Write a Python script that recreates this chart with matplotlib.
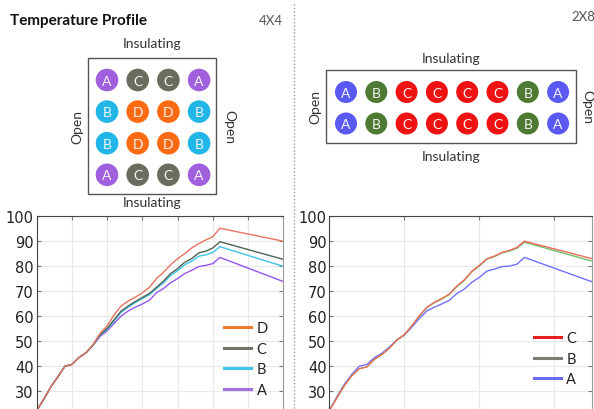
import matplotlib
matplotlib.use("Agg")
import matplotlib.pyplot as plt
from matplotlib.patches import Circle, Rectangle
from matplotlib.lines import Line2D

# ---- data ----
time = [0, 2, 4, 6, 8, 10, 12, 14, 16, 18, 20, 22, 24, 26, 28, 30, 32, 34,
        36, 38, 40, 42, 44, 46, 48, 50, 52, 70]

# 4x4 layout
grid_4x4 = [["A", "C", "C", "A"],
            ["B", "D", "D", "B"],
            ["B", "D", "D", "B"],
            ["A", "C", "C", "A"]]
t4_A = [22, 26.5, 31.5, 35.5, 39.8, 40.5, 43.3, 45.2, 48.2, 51.8, 54, 57, 60, 62, 63.5,
        64.8, 66.3, 69.3, 71, 73.3, 75, 77, 78.3, 79.8, 80.3, 81, 83.5, 73.8]
t4_B = [22, 26.5, 31.5, 35.5, 39.8, 40.5, 43.3, 45.2, 48.3, 52.3, 54.6, 58, 61.5, 63.5,
        65.4, 67, 68.5, 71, 73.3, 76.2, 78.2, 80.5, 82, 84, 84.5, 85.5, 87.8, 79.9]
t4_C = [22, 26.5, 31.5, 35.5, 39.8, 40.5, 43.3, 45.2, 48.3, 52.5, 55, 58.5, 62, 64,
        65.8, 67.4, 69, 71.5, 74, 77, 79, 81.5, 83, 85.3, 86, 87.3, 89.8, 82.7]
t4_D = [22, 26.5, 31.5, 35.5, 39.8, 40.5, 43.3, 45.2, 48.5, 53, 56, 60.5, 64, 66,
        67.5, 69.3, 71.5, 75, 77.5, 80.5, 83, 85, 87.3, 89, 90.5, 91.8, 95.2, 90]

# 2x8 layout
grid_2x8 = [["A", "B", "C", "C", "C", "C", "B", "A"],
            ["A", "B", "C", "C", "C", "C", "B", "A"]]
t8_A = [22, 27.5, 32.5, 36.5, 39.8, 40.5, 43.2, 45, 47.5, 50.3, 52.3, 55.5, 59, 62,
        63.5, 64.8, 66.3, 69, 70.8, 73.5, 75.5, 78, 78.8, 79.8, 80, 80.8, 83.5, 73.7]
t8_B = [22, 27, 32, 36, 38.8, 39.5, 42.5, 44.5, 47, 50.3, 52.5, 56, 60, 63.3,
        65.3, 66.8, 68.6, 71.8, 74.3, 77.8, 80, 82.8, 83.8, 85.3, 86, 87.2, 89.6, 82]
t8_C = [22, 27, 32, 36, 38.8, 39.5, 42.5, 44.5, 47, 50.3, 52.5, 56, 60, 63.5,
        65.5, 67, 68.8, 72, 74.5, 78, 80.3, 83, 84, 85.5, 86.3, 87.5, 90, 83]

yticks = [30, 40, 50, 60, 70, 80, 90, 100]

# colours: dots, plotted lines, legend lines
dot_4x4 = {"A": "#a05fdc", "B": "#22b6e8", "C": "#6b6c5e", "D": "#ff6a12"}
line_4x4 = {"A": "#9655f0", "B": "#3cc4ea", "C": "#4f6452", "D": "#e8735f"}
leg_4x4 = {"A": "#a070e4", "B": "#3ec6ea", "C": "#6e7566", "D": "#f07a32"}
dot_2x8 = {"A": "#5a5af2", "B": "#4e7a34", "C": "#ee1212"}
line_2x8 = {"A": "#7070ff", "B": "#6cc26c", "C": "#f06a5a"}
leg_2x8 = {"A": "#6a6af0", "B": "#7a8070", "C": "#e42020"}

W, H = 594, 410
fig = plt.figure(figsize=(W / 100, H / 100), dpi=100)
plt.rcParams['font.family'] = ['Lato', 'DejaVu Sans']

# overlay in pixel coordinates for the sketches
ov = fig.add_axes([0, 0, 1, 1])
ov.set_xlim(0, W)
ov.set_ylim(H, 0)
ov.axis("off")

txt = "#333333"
ov.text(10, 21, "Temperature Profile", fontsize=11, fontweight="bold",
        ha="left", va="center", color="#111111")
ov.text(283, 21, "4X4", fontsize=9.5, ha="right", va="center", color="#555555")
ov.text(571, 17, "2X8", fontsize=9.5, ha="left", va="center", color="#555555")
ov.plot([294, 294], [5, H], ls=(0, (1, 1.5)), color="#999999", lw=1)


def sketch(grid, colors, x0, y0, x1, y1, cx0, cy0, dx, dy, r,
           top_y, bot_y, left_x, right_x):
    ov.add_patch(Rectangle((x0, y0), x1 - x0, y1 - y0, fill=False,
                           ec="#555555", lw=1))
    for j, row in enumerate(grid):
        for i, lab in enumerate(row):
            cx, cy = cx0 + i * dx, cy0 + j * dy
            ov.add_patch(Circle((cx, cy), r, color=colors[lab], lw=0))
            ov.text(cx, cy + 0.5, lab, fontsize=10, color="#f4f4f4",
                    ha="center", va="center")
    mid = (x0 + x1) / 2
    ov.text(mid, top_y, "Insulating", fontsize=10, ha="center", va="center", color=txt)
    ov.text(mid, bot_y, "Insulating", fontsize=10, ha="center", va="center", color=txt)
    midy = (y0 + y1) / 2
    ov.text(left_x, midy, "Open", fontsize=10, rotation=90, ha="center",
            va="center", color=txt)
    ov.text(right_x, midy, "Open", fontsize=10, rotation=270, ha="center",
            va="center", color=txt)


sketch(grid_4x4, dot_4x4, 88, 59, 216, 195, 107, 81, 30.7, 31.6, 11.3,
       44, 203, 77, 229)
sketch(grid_2x8, dot_2x8, 326, 71, 576, 144, 346, 93, 30.3, 31.5, 11,
       59, 157.5, 315, 587)


def profile(left, right, series, line_cols, leg_cols, xstep, leg_y):
    # axes extends below the figure edge: y=100 at 217.3px, 2.49 px per degree
    ymin = 15
    bottom_px = 217.3 + (100 - ymin) * 2.49
    ax = fig.add_axes([left / W, 1 - bottom_px / H, (right - left) / W,
                       (bottom_px - 217.3) / H])
    for name in ["A", "B", "C", "D"]:
        if name in series:
            ax.plot(time, series[name], color=line_cols[name], lw=1)
    ax.set_xlim(0, 70)
    ax.set_ylim(ymin, 100)
    ax.set_xticks(range(0, 71, xstep))
    ax.set_xticklabels([])
    ax.set_yticks(yticks)
    ax.tick_params(axis="y", labelsize=10.5, pad=2, direction="in",
                   right=True, length=3, color="#777777", labelcolor="#222222")
    ax.tick_params(axis="x", direction="in", top=True, length=3, color="#777777")
    for lab in ax.get_yticklabels():
        lab.set_family("DejaVu Sans")
    ax.grid(True, color="#e8e8e8", lw=0.8)
    ax.spines["left"].set_color("#444444")
    ax.spines["top"].set_color("#444444")
    ax.spines["right"].set_color("#999999")
    ax.spines["bottom"].set_visible(False)
    names = [n for n in ["D", "C", "B", "A"] if n in series]
    handles = [Line2D([], [], color=leg_cols[n], lw=2.2) for n in names]
    ax.legend(handles, names, frameon=False, loc="lower right",
              bbox_to_anchor=(0.99, leg_y), fontsize=10.5, handlelength=1.8,
              handletextpad=0.4, labelspacing=0.45, labelcolor="#222222")
    return ax


profile(36.7, 283.3, {"A": t4_A, "B": t4_B, "C": t4_C, "D": t4_D},
        line_4x4, leg_4x4, 10, 0.085)
profile(329.3, 592, {"A": t8_A, "B": t8_B, "C": t8_C},
        line_2x8, leg_2x8, 20, 0.135)

fig.savefig("out.png", dpi=100)
